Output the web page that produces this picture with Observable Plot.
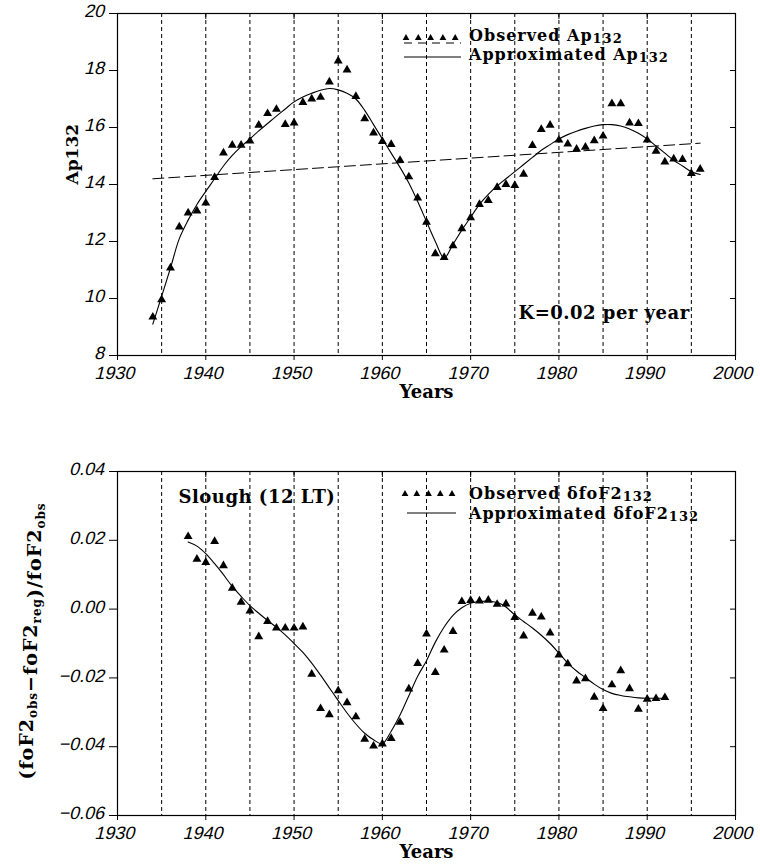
<!DOCTYPE html>
<html><head><meta charset="utf-8">
<script src="https://cdn.jsdelivr.net/npm/d3@7"></script>
<script src="https://cdn.jsdelivr.net/npm/@observablehq/plot@0.6"></script>
<style>
body{margin:0;background:#fff;width:760px;}
#chart svg{display:block;}
#chart text.ls1{letter-spacing:1px;}
#chart g.ls05 text{letter-spacing:0.5px;}
#chart text.slant-css{transform-box:fill-box;transform-origin:center;transform:skewX(-14deg);}
</style></head><body><div id="chart"></div>
<script>
// ---- data ----
const apYears = d3.range(1934, 1997);
const apObserved = [9.35, 9.96, 11.07, 12.51, 13.0, 13.07, 13.35, 14.25, 15.11, 15.38,
  15.38, 15.53, 16.08, 16.49, 16.64, 16.11, 16.16, 16.88, 17.0, 17.06,
  17.6, 18.34, 18.02, 17.09, 16.31, 15.81, 15.51, 15.41, 14.85, 14.27,
  13.53, 12.68, 11.57, 11.44, 11.85, 12.45, 12.84, 13.3, 13.44, 13.9,
  14.0, 13.97, 14.36, 15.37, 15.93, 16.08, 15.56, 15.42, 15.24, 15.31,
  15.54, 15.70, 16.84, 16.84, 16.16, 16.14, 15.56, 15.17, 14.79, 14.9,
  14.88, 14.39, 14.54];
const apApprox = [9.1, 10.08, 11.07, 12.1, 12.75, 13.3, 13.76, 14.2, 14.65, 15.02,
  15.33, 15.6, 15.88, 16.14, 16.4, 16.65, 16.9, 17.07, 17.2, 17.31,
  17.37, 17.32, 17.2, 17.0, 16.6, 16.1, 15.6, 15.1, 14.6, 14.05,
  13.4, 12.7, 12.0, 11.42, 11.9, 12.4, 12.85, 13.3, 13.65, 13.95,
  14.2, 14.45, 14.7, 14.95, 15.2, 15.4, 15.6, 15.75, 15.87, 15.97,
  16.05, 16.1, 16.1, 16.05, 15.95, 15.8, 15.6, 15.35, 15.1, 14.85,
  14.65, 14.45, 14.35];
const trendYears = [1934, 1996];
const trendAp = [14.2, 15.45];

const dfYears = d3.range(1938, 1993);
const dfObserved = [0.0211, 0.0145, 0.0136, 0.0197, 0.0126, 0.0061, 0.0020, -0.0005, -0.0080, -0.0036,
  -0.0055, -0.0055, -0.0055, -0.0052, -0.0189, -0.0289, -0.0307, -0.0237, -0.0272, -0.0313,
  -0.0378, -0.0398, -0.0392, -0.0376, -0.0329, -0.0232, -0.0158, -0.0072, -0.0184, -0.0119,
  -0.0065, 0.0022, 0.0025, 0.0024, 0.0026, 0.0014, 0.0015, -0.0024, -0.0078, -0.0012,
  -0.0023, -0.0069, -0.0133, -0.0159, -0.0209, -0.0202, -0.0256, -0.0289, -0.0220, -0.0179,
  -0.0231, -0.0291, -0.0262, -0.0260, -0.0257];
const dfApprox = [0.0195, 0.0183, 0.0161, 0.0132, 0.0100, 0.0066, 0.0037, 0.0010, -0.0012, -0.0033,
  -0.0053, -0.0075, -0.0100, -0.0126, -0.0157, -0.0192, -0.0229, -0.0266, -0.0302, -0.0334,
  -0.0361, -0.0380, -0.0391, -0.0355, -0.0308, -0.0252, -0.0195, -0.0150, -0.0096, -0.0052,
  -0.0018, 0.0004, 0.0017, 0.0022, 0.0023, 0.0019, 0.0006, -0.0017, -0.0036, -0.0055,
  -0.0076, -0.0100, -0.0128, -0.0157, -0.0180, -0.0199, -0.0218, -0.0234, -0.0245, -0.0251,
  -0.0255, -0.0258, -0.0259, -0.0259, -0.0259];

const gridYears = [1935, 1940, 1945, 1950, 1955, 1960, 1965, 1970, 1975, 1980, 1985, 1990, 1995];
const xTicks = [1930, 1940, 1950, 1960, 1970, 1980, 1990, 2000];
const apTicks = [8, 10, 12, 14, 16, 18, 20];
const dfTicks = [-0.06, -0.04, -0.02, 0.00, 0.02, 0.04];

const apLabel = "Ap132";
const dfLabelParts = [["(foF2", "obs"], ["−foF2", "reg"], [")/foF2", "obs"]];
const xLabel = "Years";
const apNote = "K=0.02 per year";
const dfNote = "Slough (12 LT)";
const apLegend = [["Observed Ap", "132"], ["Approximated Ap", "132"]];
const dfLegend = [["Observed δfoF2", "132"], ["Approximated δfoF2", "132"]];

const apRows = apYears.map((year, i) => ({year, obs: apObserved[i], fit: apApprox[i]}));
const trendRows = trendYears.map((year, i) => ({year, v: trendAp[i]}));
const dfRows = dfYears.map((year, i) => ({year, obs: dfObserved[i], fit: dfApprox[i]}));

const serif = {fontFamily: "DejaVu Serif", fontStyle: "normal", fontWeight: "bold"};
const tickFont = {fontFamily: "Liberation Sans", fontSize: 18};

function legendMark(entries, o) {
  return (index, scales, values, dim) => {
    const g = d3.create("svg:g")
      .attr("font-family", "DejaVu Serif").attr("font-size", 16)
      .attr("font-style", "normal").attr("font-weight", "bold")
      .attr("text-anchor", "start");
    const x0 = dim.marginLeft, y0 = dim.marginTop;
    for (let i = 0; i < 5; i++) {
      g.append("path")
        .attr("d", d3.symbol(d3.symbolTriangle, 20)())
        .attr("transform", `translate(${x0 + o.triX + i * o.triStep},${y0 + o.triY})`)
        .attr("fill", "#000");
    }
    if (o.dashY != null) {
      g.append("line").attr("x1", x0 + o.lineX1).attr("x2", x0 + o.lineX2)
        .attr("y1", y0 + o.dashY).attr("y2", y0 + o.dashY)
        .attr("stroke", "#000").attr("stroke-dasharray", "8,6");
    }
    g.append("line").attr("x1", x0 + o.lineX1).attr("x2", x0 + o.lineX2)
      .attr("y1", y0 + o.lineY).attr("y2", y0 + o.lineY)
      .attr("stroke", "#000").attr("stroke-width", 1);
    entries.forEach(([main, sub], i) => {
      const t = g.append("text").attr("class", "ls1")
        .attr("x", x0 + o.textX).attr("y", y0 + o.textY[i]);
      t.append("tspan").text(main);
      t.append("tspan").attr("font-size", 13).attr("dy", 2).text(sub);
    });
    return g.node();
  };
}

function dfYLabel() {
  return (index, scales, values, dim) => {
    const cy = dim.marginTop + (dim.height - dim.marginTop - dim.marginBottom) / 2;
    const t = d3.create("svg:text").attr("class", "ls1")
      .attr("font-family", "DejaVu Serif").attr("font-size", 19)
      .attr("font-style", "normal").attr("font-weight", "bold")
      .attr("text-anchor", "middle")
      .attr("transform", `translate(${dim.marginLeft - 84},${cy - 2}) rotate(-90)`);
    dfLabelParts.forEach(([main, sub]) => {
      t.append("tspan").text(main);
      t.append("tspan").attr("font-size", 12).attr("dy", 4).text(sub);
      t.append("tspan").attr("dy", -4).text("");
    });
    return t.node();
  };
}

function panel({height, marginTop, marginBottom, yDomain, yTicks, yFormat, marks}) {
  return Plot.plot({
    width: 760, height, marginLeft: 117, marginRight: 25, marginTop, marginBottom,
    style: {background: "#fff", color: "#000", fontFamily: "Liberation Sans", fontSize: "18px", overflow: "visible"},
    x: {domain: [1930, 2000]},
    y: {domain: yDomain},
    marks: [
      Plot.ruleX(gridYears, {stroke: "#000", strokeWidth: 1, strokeDasharray: "4,3"}),
      Plot.axisX(xTicks, {anchor: "bottom", tickSize: 5, tickPadding: 6, tickFormat: "d", label: null, ...tickFont}),
      Plot.axisX(xTicks, {anchor: "top", tickSize: 5, dy: 5, tickFormat: () => "", label: null}),
      Plot.axisY(yTicks, {anchor: "left", tickSize: 8, tickFormat: () => "", label: null}),
      Plot.axisY(yTicks, {anchor: "left", tickSize: 0, tickPadding: 12, dy: -2, tickFormat: yFormat, label: null, ...tickFont}),
      Plot.axisY(yTicks, {anchor: "right", tickSize: 6, dx: -6, tickFormat: () => "", label: null}),
      Plot.frame({stroke: "#000", strokeWidth: 1.2}),
      Plot.text([xLabel], {frameAnchor: "bottom", dy: 42, lineAnchor: "bottom", fontSize: 18, ...serif}),
      ...marks
    ]
  });
}

const apChart = panel({
  height: 410, marginTop: 13, marginBottom: 55, yDomain: [8, 20], yTicks: apTicks, yFormat: "d",
  marks: [
    Plot.line(trendRows, {x: "year", y: "v", stroke: "#000", strokeWidth: 1, strokeDasharray: "11,5"}),
    Plot.line(apRows, {x: "year", y: "fit", stroke: "#000", strokeWidth: 1.1, curve: "catmull-rom"}),
    Plot.dot(apRows, {x: "year", y: "obs", symbol: "triangle", fill: "#000", r: 3.3}),
    Plot.text([apLabel], {frameAnchor: "left", dx: -45, rotate: -90, fontSize: 17, ...serif}),
    Plot.text([apNote], {frameAnchor: "top-left", dx: 401, dy: 305, textAnchor: "start", lineAnchor: "bottom", fontSize: 18, className: "ls05", ...serif}),
    legendMark(apLegend, {triX: 289, triStep: 12.3, triY: 25, dashY: 30, lineX1: 287, lineX2: 344, lineY: 44, textX: 352, textY: [28, 47]})
  ]
});

const dfChart = panel({
  height: 454, marginTop: 61, marginBottom: 49, yDomain: [-0.06, 0.04], yTicks: dfTicks, yFormat: ".2f",
  marks: [
    Plot.line(dfRows, {x: "year", y: "fit", stroke: "#000", strokeWidth: 1.1, curve: "catmull-rom"}),
    Plot.dot(dfRows, {x: "year", y: "obs", symbol: "triangle", fill: "#000", r: 3.3}),
    Plot.text([dfNote], {frameAnchor: "top-left", dx: 61, dy: 31, textAnchor: "start", lineAnchor: "bottom", fontSize: 18, className: "ls05", ...serif}),
    legendMark(dfLegend, {triX: 288, triStep: 11.75, triY: 23, dashY: null, lineX1: 290, lineX2: 339, lineY: 42, textX: 352, textY: [28, 48]}),
    dfYLabel()
  ]
});

document.getElementById("chart").append(apChart, dfChart);
// slant the numeric axis tick labels (the reference uses a slanted stroke font)
const numericLabel = /^[−\-]?\d+(\.\d+)?$/;
document.querySelectorAll("#chart svg text").forEach(t => {
  if (!numericLabel.test((t.textContent || "").trim())) return;
  const tr = t.getAttribute("transform");
  if (tr && /translate/.test(tr)) {
    t.setAttribute("transform", tr + " skewX(-14)");
  } else {
    t.classList.add("slant-css");
  }
});
</script></body></html>
